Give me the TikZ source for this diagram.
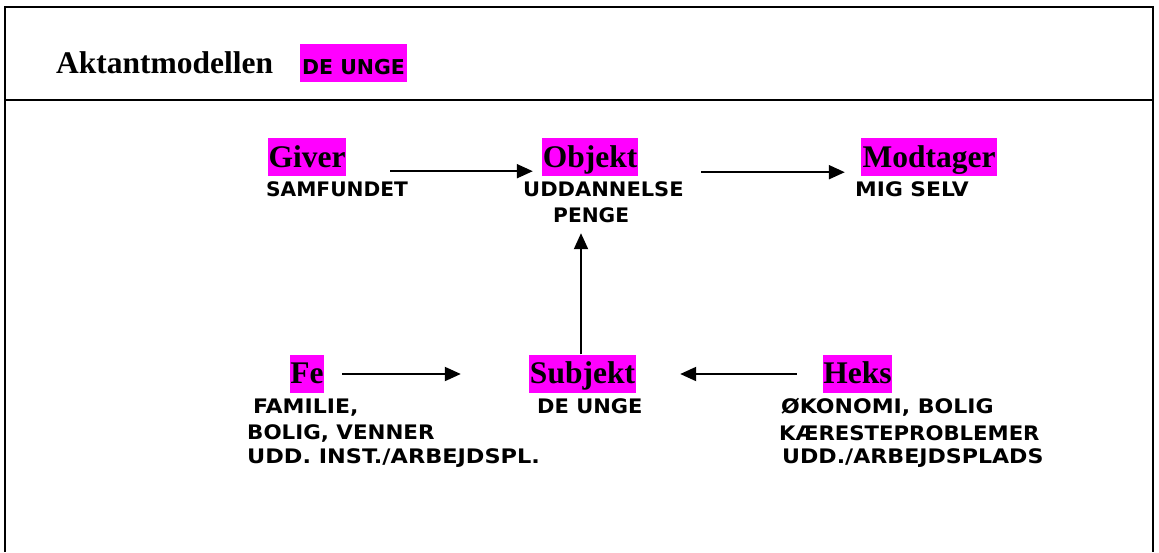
\documentclass[tikz,border=0pt]{standalone}
\usepackage{fontspec}
\usepackage{graphicx}
\setmainfont{Liberation Serif}
\newfontfamily\labfont{DejaVu Sans}
\usetikzlibrary{arrows.meta}
\definecolor{mag}{RGB}{255,0,255}
\newcommand\labwd[2]{\scalebox{#1}[1]{#2}}
\tikzset{
  hbox/.style={fill=mag, inner sep=0pt, minimum height=38pt, text height=29pt, text depth=9pt,
    font=\fontsize{31.5}{36}\selectfont\bfseries},
  lab/.style={anchor=base west, inner sep=0pt, font=\labfont\fontsize{20}{24}\selectfont\bfseries},
  arr/.style={line width=2pt, -{Triangle[length=16pt,width=14pt]}},
  frame/.style={line width=2pt}
}
\begin{document}
\begin{tikzpicture}[x=1pt,y=-1pt]
\useasboundingbox (0,0) rectangle (1159,552);
% frame
\draw[frame] (5,552) -- (5,7) -- (1153,7) -- (1153,552);
\draw[frame] (5,100) -- (1153,100);
% title
\node[anchor=base west, inner sep=0pt, font=\fontsize{31.5}{36}\selectfont\bfseries] (title) at (56,73) {Aktantmodellen};
\node[fill=mag, inner sep=0pt, minimum width=107pt, minimum height=38pt, text height=30pt, text depth=8pt,
  font=\labfont\fontsize{20.5}{24}\selectfont\bfseries] (tbox) at (353.5,63) {DE UNGE};
% boxes
\node[hbox, minimum width=78pt] (giver) at (307,157) {Giver};
\node[hbox, minimum width=96pt] (objekt) at (590,157) {Objekt};
\node[hbox, minimum width=136pt] (modtager) at (929,157) {Modtager};
\node[hbox, minimum width=34pt] (fe) at (307,373.5) {Fe};
\node[hbox, minimum width=107pt] (subjekt) at (582.5,373.5) {Subjekt};
\node[hbox, minimum width=69pt] (heks) at (857.5,373.5) {Heks};
% labels
\node[lab] (samfundet) at (266,196) {\labwd{1.01}{SAMFUNDET}};
\node[lab] (uddannelse) at (523,196) {\labwd{1.05}{UDDANNELSE}};
\node[lab] (penge) at (553,222) {\labwd{1.01}{PENGE}};
\node[lab] (migselv) at (855,196) {\labwd{1.09}{MIG SELV}};
\node[lab] (familie) at (253,413) {\labwd{1.10}{FAMILIE,}};
\node[lab] (bolig) at (247,439) {\labwd{1.07}{BOLIG, VENNER}};
\node[lab] (uddinst) at (247,463) {\labwd{1.12}{UDD. INST./ARBEJDSPL.}};
\node[lab] (deunge) at (537,413) {\labwd{1.05}{DE UNGE}};
\node[lab] (okonomi) at (781,413) {\labwd{1.10}{ØKONOMI, BOLIG}};
\node[lab] (kaereste) at (779,440) {\labwd{1.06}{KÆRESTEPROBLEMER}};
\node[lab] (uddarb) at (782,463) {\labwd{1.105}{UDD./ARBEJDSPLADS}};
% arrows
\draw[arr] ([shift={(44,-5)}]giver.south east) -- ([shift={(-9,-5)}]objekt.south west);
\draw[arr] ([shift={(63,-4)}]objekt.south east) -- ([shift={(-16,-4)}]modtager.south west);
\draw[arr] ([shift={(-1.5,0)}]subjekt.north) -- ([shift={(-9,57)}]objekt.south);
\draw[arr] ([shift={(18,0.5)}]fe.east) -- ([shift={(-68,0.5)}]subjekt.west);
\draw[arr] ([shift={(-26,0.5)}]heks.west) -- ([shift={(44,0.5)}]subjekt.east);
\end{tikzpicture}
\end{document}
